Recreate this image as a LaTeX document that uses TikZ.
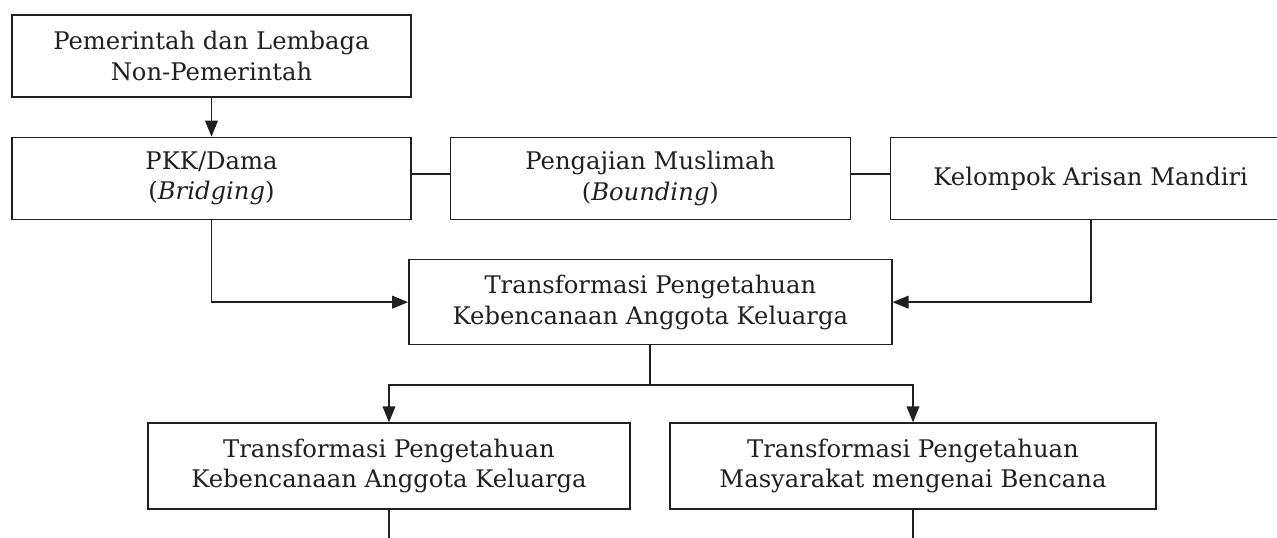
\documentclass[tikz,border=0pt]{standalone}
\usepackage{fontspec}
\setmainfont{DejaVu Serif}
\usetikzlibrary{positioning,arrows.meta}
\definecolor{ink}{HTML}{231F20}

\begin{document}
\begin{tikzpicture}[x=0.75pt,y=-0.75pt,
	kotak/.style={draw=ink,line width=1pt,text=ink,align=center,inner sep=0pt,
		minimum height=61.5pt,font=\fontsize{18.2}{23}\selectfont},
	panah/.style={draw=ink,line width=1.3pt,-{Triangle[length=12pt,width=9.5pt]}},
	garis/.style={draw=ink,line width=1.3pt}]
	\useasboundingbox (0,0) rectangle (1277,538);
	%% baris atas
	\node[kotak,minimum width=299.25pt] (b1) at (211.5,56) {Pemerintah dan Lembaga\\Non-Pemerintah};
	\node[kotak,minimum width=299.25pt,below=29.25pt of b1] (b2) {PKK/Dama\\(\textit{Bridging})};
	\node[kotak,minimum width=300pt,right=28.5pt of b2] (b3) {Pengajian Muslimah\\(\textit{Bounding})};
	\node[kotak,minimum width=300pt,right=29.25pt of b3] (b4) {Kelompok Arisan Mandiri}; % terpotong di kanan
	%% tengah
	\node[kotak,minimum width=362.25pt,minimum height=63.75pt,below=29.25pt of b3] (b5) {Transformasi Pengetahuan\\Kebencanaan Anggota Keluarga};
	%% bawah
	\node[kotak,minimum width=361.5pt,minimum height=64.5pt,below=57.75pt of b5,xshift=-196pt] (b6) {Transformasi Pengetahuan\\Kebencanaan Anggota Keluarga};
	\node[kotak,minimum width=364.5pt,minimum height=64.5pt,below=57.75pt of b5,xshift=197pt] (b7) {Transformasi Pengetahuan\\Masyarakat mengenai Bencana};
	\coordinate[below=30pt of b5.south] (cabang);
	\coordinate[below=30pt of b6.south] (e6);
	\coordinate[below=30pt of b7.south] (e7);
	% garis
	\draw[panah] (b1) -- (b2);
	\draw[garis] ([yshift=3pt]b2.east) -- ([yshift=3pt]b3.west);
	\draw[garis] ([yshift=3pt]b3.east) -- ([yshift=3pt]b4.west);
	\draw[panah] (b2) |- (b5);
	\draw[panah] (b4) |- (b5);
	\draw[garis] (b5) -- (cabang);
	\draw[panah] (cabang) -| (b6);
	\draw[panah] (cabang) -| (b7);
	\draw[garis] (b6) -- (e6);
	\draw[garis] (b7) -- (e7);
\end{tikzpicture}
\end{document}
